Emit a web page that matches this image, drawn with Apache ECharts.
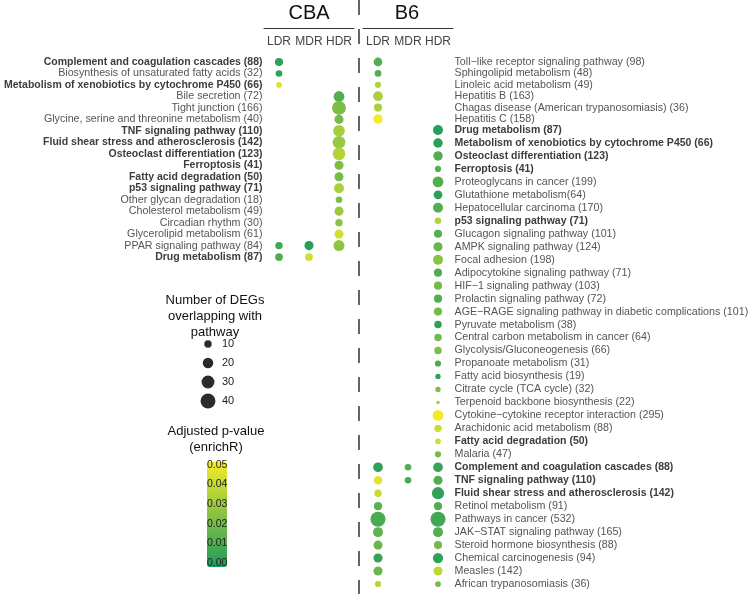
<!DOCTYPE html>
<html>
<head>
<meta charset="utf-8">
<script src="https://cdn.jsdelivr.net/npm/echarts@6/dist/echarts.min.js"></script>
<style>
  html, body { margin: 0; padding: 0; background: #fff; }
  #chart { width: 749px; height: 594px; }
</style>
</head>
<body>
<div id="chart"></div>
<script>
const _ = null;
const doses = ['LDR', 'MDR', 'HDR'];

// CBA pathways (left side)
const cbaPathways = [
  'Complement and coagulation cascades (88)',
  'Biosynthesis of unsaturated fatty acids (32)',
  'Metabolism of xenobiotics by cytochrome P450 (66)',
  'Bile secretion (72)',
  'Tight junction (166)',
  'Glycine, serine and threonine metabolism (40)',
  'TNF signaling pathway (110)',
  'Fluid shear stress and atherosclerosis (142)',
  'Osteoclast differentiation (123)',
  'Ferroptosis (41)',
  'Fatty acid degradation (50)',
  'p53 signaling pathway (71)',
  'Other glycan degradation (18)',
  'Cholesterol metabolism (49)',
  'Circadian rhythm (30)',
  'Glycerolipid metabolism (61)',
  'PPAR signaling pathway (84)',
  'Drug metabolism (87)'
];
// number of overlapping DEGs per dose (null = not enriched)
const cbaLdrCount = [12, 8, 6, _, _, _, _, _, _, _, _, _, _, _, _, _, 10, 11];
const cbaLdrPadj  = [0.004, 0.004, 0.046, _, _, _, _, _, _, _, _, _, _, _, _, _, 0.008, 0.012];
const cbaMdrCount = [_, _, _, _, _, _, _, _, _, _, _, _, _, _, _, _, 15, 11];
const cbaMdrPadj  = [_, _, _, _, _, _, _, _, _, _, _, _, _, _, _, _, 0.002, 0.042];
const cbaHdrCount = [_, _, _, 21, 35, 15, 25, 29, 29, 15, 15, 18, 8, 15, 10, 15, 22, _];
const cbaHdrPadj  = [_, _, _, 0.012, 0.022, 0.02, 0.032, 0.028, 0.035, 0.022, 0.02, 0.033, 0.022, 0.03, 0.025, 0.042, 0.026, _];

// B6 pathways (right side)
const b6Pathways = [
  'Toll\u2212like receptor signaling pathway (98)',
  'Sphingolipid metabolism (48)',
  'Linoleic acid metabolism (49)',
  'Hepatitis B (163)',
  'Chagas disease (American trypanosomiasis) (36)',
  'Hepatitis C (158)',
  'Drug metabolism (87)',
  'Metabolism of xenobiotics by cytochrome P450 (66)',
  'Osteoclast differentiation (123)',
  'Ferroptosis (41)',
  'Proteoglycans in cancer (199)',
  'Glutathione metabolism(64)',
  'Hepatocellular carcinoma (170)',
  'p53 signaling pathway (71)',
  'Glucagon signaling pathway (101)',
  'AMPK signaling pathway (124)',
  'Focal adhesion (198)',
  'Adipocytokine signaling pathway (71)',
  'HIF\u22121 signaling pathway (103)',
  'Prolactin signaling pathway (72)',
  'AGE\u2212RAGE signaling pathway in diabetic complications (101)',
  'Pyruvate metabolism (38)',
  'Central carbon metabolism in cancer (64)',
  'Glycolysis/Gluconeogenesis (66)',
  'Propanoate metabolism (31)',
  'Fatty acid biosynthesis (19)',
  'Citrate cycle (TCA cycle) (32)',
  'Terpenoid backbone biosynthesis (22)',
  'Cytokine\u2212cytokine receptor interaction (295)',
  'Arachidonic acid metabolism (88)',
  'Fatty acid degradation (50)',
  'Malaria (47)',
  'Complement and coagulation cascades (88)',
  'TNF signaling pathway (110)',
  'Fluid shear stress and atherosclerosis (142)',
  'Retinol metabolism (91)',
  'Pathways in cancer (532)',
  'JAK\u2212STAT signaling pathway (165)',
  'Steroid hormone biosynthesis (88)',
  'Chemical carcinogenesis (94)',
  'Measles (142)',
  'African trypanosomiasis (36)'
];
const b6LdrCount = [14, 8, 7, 17, 12, 16, _, _, _, _, _, _, _, _, _, _, _, _, _, _, _,
  _, _, _, _, _, _, _, _, _, _, _, 17, 13, 10, 12, 41, 18, 15, 15, 15, 7];
const b6LdrPadj = [0.012, 0.012, 0.035, 0.033, 0.033, 0.05, _, _, _, _, _, _, _, _, _, _, _, _, _, _, _,
  _, _, _, _, _, _, _, _, _, _, _, 0.004, 0.046, 0.04, 0.014, 0.01, 0.015, 0.018, 0.005, 0.018, 0.036];
const b6MdrCount = [_, _, _, _, _, _, _, _, _, _, _, _, _, _, _, _, _, _, _, _, _,
  _, _, _, _, _, _, _, _, _, _, _, 8, 8, _, _, _, _, _, _, _, _];
const b6MdrPadj = [_, _, _, _, _, _, _, _, _, _, _, _, _, _, _, _, _, _, _, _, _,
  _, _, _, _, _, _, _, _, _, _, _, 0.012, 0.01, _, _, _, _, _, _, _, _];
const b6HdrCount = [_, _, _, _, _, _, 18, 16, 16, 7, 21, 14, 18, 8, 12, 15, 18, 12, 12, 12, 12,
  10, 10, 10, 7, 5, 5, 2, 21, 10, 6, 7, 17, 15, 27, 12, 41, 18, 12, 19, 15, 6];
const b6HdrPadj = [_, _, _, _, _, _, 0.002, 0.002, 0.012, 0.012, 0.012, 0.003, 0.012, 0.035, 0.012, 0.017,
  0.025, 0.012, 0.02, 0.012, 0.02, 0.004, 0.02, 0.022, 0.01, 0.004, 0.022, 0.028, 0.05, 0.04, 0.042, 0.02,
  0.006, 0.012, 0.004, 0.012, 0.008, 0.012, 0.02, 0.004, 0.038, 0.02];

// pathways found in both strains are printed bold
const sharedPathways = [
  'Complement and coagulation cascades (88)',
  'Metabolism of xenobiotics by cytochrome P450 (66)',
  'TNF signaling pathway (110)',
  'Fluid shear stress and atherosclerosis (142)',
  'Osteoclast differentiation (123)',
  'Ferroptosis (41)',
  'Fatty acid degradation (50)',
  'p53 signaling pathway (71)',
  'Drug metabolism (87)'
];

const sizeLegendValues = [10, 20, 30, 40];
const padjTicks = [0, 0.01, 0.02, 0.03, 0.04, 0.05];
const B6_TOP_ROWS = 6; // LDR-only pathways sit a bit tighter at the top

const FONT = 'Liberation Sans, Arial, sans-serif';
const LABEL_SIZE = 10.7;

function dotSize(n) {
  return 2.35 * Math.sqrt(n);
}

function buildPoints(pathways, counts, padj, from, to) {
  const pts = [];
  for (let d = 0; d < doses.length; d++) {
    for (let i = from; i < to; i++) {
      if (counts[d][i] != null) {
        pts.push([doses[d], pathways[i], counts[d][i], padj[d][i]]);
      }
    }
  }
  return pts;
}

const cbaPoints = buildPoints(cbaPathways,
  [cbaLdrCount, cbaMdrCount, cbaHdrCount], [cbaLdrPadj, cbaMdrPadj, cbaHdrPadj], 0, cbaPathways.length);
const b6Counts = [b6LdrCount, b6MdrCount, b6HdrCount];
const b6Padj = [b6LdrPadj, b6MdrPadj, b6HdrPadj];
const b6TopPoints = buildPoints(b6Pathways, b6Counts, b6Padj, 0, B6_TOP_ROWS);
const b6BottomPoints = buildPoints(b6Pathways, b6Counts, b6Padj, B6_TOP_ROWS, b6Pathways.length);

function pathwayLabel(v) {
  return sharedPathways.indexOf(v) >= 0 ? '{b|' + v + '}' : '{n|' + v + '}';
}
const labelRich = {
  b: { fontFamily: FONT, fontSize: 10.5, fontWeight: 'bold', color: '#3d3d3d' },
  n: { fontFamily: FONT, fontSize: LABEL_SIZE, color: '#555' }
};

const headerAxis = {
  type: 'category',
  data: doses,
  position: 'top',
  offset: 28.3,
  axisLine: { lineStyle: { color: '#333', width: 1 } },
  axisTick: { alignWithLabel: true, length: 3, lineStyle: { color: '#333' } },
  axisLabel: { inside: true, interval: 0, margin: 8, fontSize: 12, color: '#444', fontFamily: FONT }
};

function pathwayAxis(grid, data, pos) {
  return {
    type: 'category', gridIndex: grid, data: data, inverse: true, position: pos,
    axisLine: { show: false }, axisTick: { show: false }, splitLine: { show: false },
    axisLabel: { interval: 0, margin: 1.5, formatter: pathwayLabel, rich: labelRich }
  };
}

function dotSeries(x, y, data) {
  return {
    type: 'scatter', xAxisIndex: x, yAxisIndex: y, data: data,
    symbol: 'circle',
    symbolSize: v => dotSize(v[2]),
    itemStyle: { opacity: 1 },
    silent: true
  };
}

const titleText = { fontWeight: 'normal', color: '#111', fontFamily: FONT };

const chart = echarts.init(document.getElementById('chart'));
chart.setOption({
  animation: false,
  textStyle: { fontFamily: FONT },
  title: [
    { text: 'CBA', left: 309, top: 3, padding: 0, textAlign: 'center',
      textStyle: Object.assign({ fontSize: 20 }, titleText) },
    { text: 'B6', left: 407, top: 3, padding: 0, textAlign: 'center',
      textStyle: Object.assign({ fontSize: 20 }, titleText) },
    { text: 'Number of DEGs\noverlapping with\npathway', left: 215, top: 292, padding: 0, textAlign: 'center',
      textStyle: Object.assign({ fontSize: 13, lineHeight: 16 }, titleText) },
    { text: 'Adjusted p-value\n(enrichR)', left: 216, top: 423, padding: 0, textAlign: 'center',
      textStyle: Object.assign({ fontSize: 13, lineHeight: 16 }, titleText) }
  ],
  grid: [
    { left: 264, width: 90, top: 56.3, height: 206.5, outerBoundsMode: 'none' },   // CBA
    { left: 363, width: 90, top: 56.3, height: 68.4, outerBoundsMode: 'none' },    // B6 top rows
    { left: 363, width: 90, top: 123.5, height: 467, outerBoundsMode: 'none' },    // B6 remaining rows
    { left: 200, width: 16, top: 334.5, height: 76, outerBoundsMode: 'none' },     // size legend
    { left: 207, width: 20, top: 465, height: 98, outerBoundsMode: 'none' }        // colour bar labels
  ],
  xAxis: [
    Object.assign({ gridIndex: 0 }, headerAxis),
    Object.assign({ gridIndex: 1 }, headerAxis),
    { type: 'category', gridIndex: 2, data: doses, show: false },
    { type: 'value', gridIndex: 3, min: -1, max: 1, show: false },
    { type: 'value', gridIndex: 4, min: 0, max: 1, show: false }
  ],
  yAxis: [
    pathwayAxis(0, cbaPathways, 'left'),
    pathwayAxis(1, b6Pathways.slice(0, B6_TOP_ROWS), 'right'),
    pathwayAxis(2, b6Pathways.slice(B6_TOP_ROWS), 'right'),
    {
      type: 'category', gridIndex: 3, data: sizeLegendValues.map(String), inverse: true, position: 'right',
      axisLine: { show: false }, axisTick: { show: false },
      axisLabel: { margin: 6, fontSize: 11, color: '#222', fontFamily: FONT }
    },
    {
      type: 'value', gridIndex: 4, z: 20, min: padjTicks[0], max: padjTicks[padjTicks.length - 1],
      interval: padjTicks[1] - padjTicks[0],
      axisLine: { show: false }, axisTick: { show: false }, splitLine: { show: false },
      axisLabel: { inside: true, margin: 0, fontSize: 10.5, color: '#222', fontFamily: FONT,
        overflow: 'none', formatter: v => v.toFixed(2) }
    }
  ],
  visualMap: {
    type: 'continuous',
    z: 1,
    min: 0, max: 0.05,
    dimension: 3,
    seriesIndex: [0, 1, 2],
    orient: 'vertical',
    left: 192, top: 447,
    itemWidth: 20, itemHeight: 105,
    calculable: false,
    inRange: { color: ['#1f9b5c', '#f3eb2a'] }
  },
  series: [
    dotSeries(0, 0, cbaPoints),
    dotSeries(1, 1, b6TopPoints),
    dotSeries(2, 2, b6BottomPoints),
    {
      type: 'scatter', xAxisIndex: 3, yAxisIndex: 3,
      data: sizeLegendValues.map(v => [0, String(v), v]),
      symbol: 'circle',
      symbolSize: v => dotSize(v[2]),
      itemStyle: { color: '#2b2b2b', opacity: 1 },
      silent: true
    }
  ],
  graphic: [
    {
      type: 'line', silent: true,
      shape: { x1: 359, y1: 0, x2: 359, y2: 594 },
      style: { stroke: '#333', lineWidth: 1.5, lineDash: [15, 14] }
    }
  ]
});
</script>
</body>
</html>
